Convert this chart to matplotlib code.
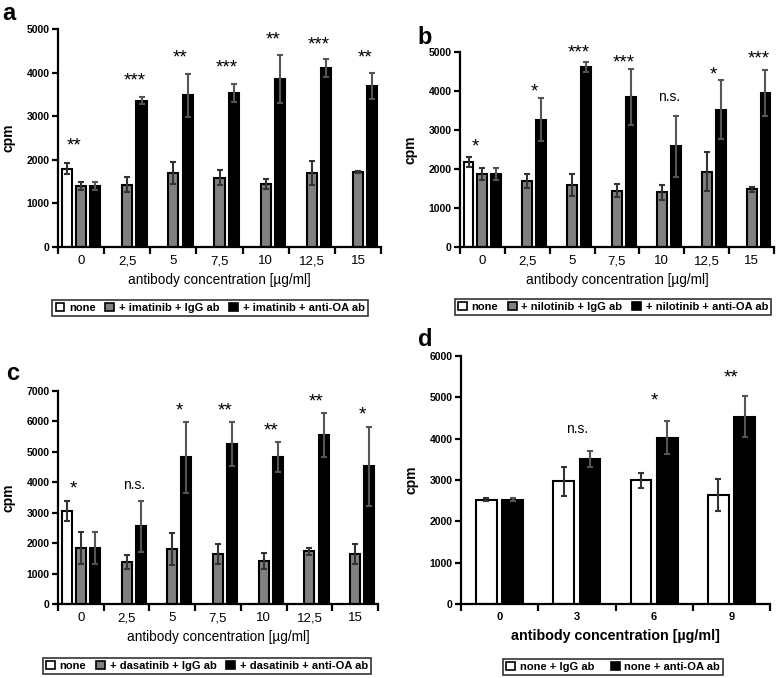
import numpy as np
import matplotlib
matplotlib.use('Agg')
import matplotlib.pyplot as plt
from matplotlib.patches import Patch

plt.rcParams['font.family'] = ['Liberation Sans', 'DejaVu Sans']

W, H = 777, 678

conc = ['0', '2,5', '5', '7,5', '10', '12,5', '15']

# panel a - imatinib
a_none = [1800]
a_none_err = [120]
a_igg = [1400, 1430, 1690, 1590, 1450, 1700, 1720]
a_igg_err = [90, 170, 250, 170, 110, 270, 25]
a_oa = [1400, 3360, 3480, 3530, 3860, 4100, 3690]
a_oa_err = [90, 70, 490, 210, 550, 210, 300]
a_stars = ['**', '***', '**', '***', '**', '***', '**']
a_star_y = [2410, 3900, 4440, 4210, 4850, 4740, 4440]

# panel b - nilotinib
b_none = [2190]
b_none_err = [130]
b_igg = [1875, 1700, 1590, 1440, 1400, 1935, 1480]
b_igg_err = [160, 180, 270, 170, 190, 490, 60]
b_oa = [1875, 3260, 4615, 3840, 2580, 3520, 3960]
b_oa_err = [160, 550, 140, 720, 790, 750, 590]
b_stars = ['*', '*', '***', '***', 'n.s.', '*', '***']
b_star_y = [2660, 4075, 5077, 4829, 3844, 4529, 4931]

# panel c - dasatinib
c_none = [3060]
c_none_err = [320]
c_igg = [1840, 1380, 1800, 1650, 1400, 1730, 1650]
c_igg_err = [510, 220, 530, 320, 260, 110, 330]
c_oa = [1840, 2550, 4820, 5260, 4820, 5560, 4520]
c_oa_err = [510, 840, 1160, 720, 490, 720, 1310]
c_stars = ['*', 'n.s.', '*', '**', '**', '**', '*']
c_star_y = [3920, 3920, 6490, 6490, 5830, 6790, 6340]

# panel d - no inhibitor
d_conc = ['0', '3', '6', '9']
d_igg = [2520, 2965, 2990, 2640]
d_igg_err = [40, 340, 190, 390]
d_oa = [2520, 3510, 4020, 4530]
d_oa_err = [40, 200, 400, 500]
d_stars = ['', 'n.s.', '*', '**']
d_star_y = [0, 4230, 5020, 5560]

GREY = '#808080'
ERR = '#333333'


def px_axes(fig, left, right, top, bottom):
	return fig.add_axes([left / W, 1 - bottom / H, (right - left) / W, (bottom - top) / H])


def sig_label(ax, x, y, s):
	# asterisks are drawn bigger than the "n.s." text
	if s == 'n.s.':
		ax.text(x, y, s, ha='center', va='center', fontsize=10)
	else:
		ax.annotate(s, (x, y), xytext=(0, -3), textcoords='offset points',
					ha='center', va='center', fontsize=13.5, annotation_clip=False)


def style_axes(ax, ncat, ymax, ystep):
	for s in ['top', 'right']:
		ax.spines[s].set_visible(False)
	for s in ['left', 'bottom']:
		ax.spines[s].set_linewidth(1.6)
	ax.set_xlim(-0.5, ncat - 0.5)
	ax.set_ylim(0, ymax)
	ax.set_yticks(np.arange(0, ymax + 1, ystep))
	ax.set_xticks(np.arange(-0.5, ncat, 1.0), minor=True)
	ax.tick_params(axis='x', which='major', length=0, pad=6)
	ax.tick_params(axis='x', which='minor', length=5, width=1.6, direction='out')
	ax.tick_params(axis='y', length=4, width=1.6, direction='out', pad=2)
	for t in ax.get_yticklabels():
		t.set_fontweight('bold')
		t.set_fontsize(7.5)
	ax.set_ylabel('cpm', fontsize=10, fontweight='bold', labelpad=8)


def drug_panel(fig, box, letter, letter_xy, none, none_err, igg, igg_err, oa, oa_err,
			   stars, star_y, ymax, ystep, drug, leg_xy):
	ax = px_axes(fig, *box)
	x = np.arange(len(conc))
	step, w = 0.31, 0.22
	ekw = dict(ecolor=ERR, elinewidth=1.5, capsize=2.5, capthick=1.5)
	ax.bar(x[:len(none)] - step, none, w, yerr=none_err, color='white',
		   edgecolor='black', linewidth=1.5, error_kw=ekw)
	ax.bar(x, igg, w, yerr=igg_err, color=GREY, edgecolor='black', linewidth=1.5, error_kw=ekw)
	ax.bar(x + step, oa, w, yerr=oa_err, color='black', edgecolor='black', linewidth=1.5,
		   error_kw=dict(ecolor='#555555', elinewidth=1.5, capsize=2.5, capthick=1.5))
	for i, (s, yy) in enumerate(zip(stars, star_y)):
		off = -step / 2 if i == 0 else step / 2
		sig_label(ax, i + off, yy, s)
	style_axes(ax, len(conc), ymax, ystep)
	ax.set_xticks(x)
	ax.set_xticklabels(conc, fontsize=9.5)
	ax.set_xlabel('antibody concentration [µg/ml]', fontsize=9.8, labelpad=4)
	fig.text(letter_xy[0] / W, 1 - letter_xy[1] / H, letter, fontsize=17, fontweight='bold',
			 ha='center', va='center')
	handles = [Patch(facecolor='white', edgecolor='black', linewidth=1.2),
			   Patch(facecolor=GREY, edgecolor='black', linewidth=1.2),
			   Patch(facecolor='black', edgecolor='black', linewidth=1.2)]
	labels = ['none', '+ ' + drug + ' + IgG ab', '+ ' + drug + ' + anti-OA ab']
	leg = fig.legend(handles, labels, loc='center', bbox_to_anchor=(leg_xy[0] / W, 1 - leg_xy[1] / H),
					 ncol=3, fancybox=False, edgecolor='black', handlelength=0.8, handleheight=0.8,
					 handletextpad=0.4, columnspacing=0.9, borderpad=0.3, prop={'weight': 'bold', 'size': 8})
	leg.get_frame().set_linewidth(1.2)
	return ax


fig = plt.figure(figsize=(W / 100, H / 100), dpi=100)

drug_panel(fig, (58, 381, 29, 247), 'a', (9, 13), a_none, a_none_err, a_igg, a_igg_err,
		   a_oa, a_oa_err, a_stars, a_star_y, 5000, 1000, 'imatinib', (210, 308))
drug_panel(fig, (460, 774, 52, 247), 'b', (425, 37), b_none, b_none_err, b_igg, b_igg_err,
		   b_oa, b_oa_err, b_stars, b_star_y, 5000, 1000, 'nilotinib', (613, 307))
drug_panel(fig, (58, 378, 391, 604), 'c', (13, 373), c_none, c_none_err, c_igg, c_igg_err,
		   c_oa, c_oa_err, c_stars, c_star_y, 7000, 1000, 'dasatinib', (207, 666))

# panel d
ax = px_axes(fig, 461, 770, 356, 604)
x = np.arange(len(d_conc))
ax.bar(x - 0.17, d_igg, 0.27, yerr=d_igg_err, color='white', edgecolor='black', linewidth=1.5,
	   error_kw=dict(ecolor=ERR, elinewidth=1.5, capsize=2.5, capthick=1.5))
ax.bar(x + 0.17, d_oa, 0.27, yerr=d_oa_err, color='black', edgecolor='black', linewidth=1.5,
	   error_kw=dict(ecolor='#555555', elinewidth=1.5, capsize=2.5, capthick=1.5))
for i, (s, yy) in enumerate(zip(d_stars, d_star_y)):
	if s:
		sig_label(ax, i, yy, s)
style_axes(ax, len(d_conc), 6000, 1000)
ax.set_xticks(x)
ax.set_xticklabels(d_conc, fontsize=8, fontweight='bold')
ax.set_xlabel('antibody concentration [µg/ml]', fontsize=10.3, fontweight='bold', labelpad=5)
fig.text(425 / W, 1 - 340 / H, 'd', fontsize=17, fontweight='bold', ha='center', va='center')
handles = [Patch(facecolor='white', edgecolor='black', linewidth=1.2),
		   Patch(facecolor='black', edgecolor='black', linewidth=1.2)]
leg = fig.legend(handles, ['none + IgG ab', 'none + anti-OA ab'], loc='center',
				 bbox_to_anchor=(613 / W, 1 - 667 / H), ncol=2, fancybox=False, edgecolor='black',
				 handlelength=0.8, handleheight=0.8, handletextpad=0.4, columnspacing=1.5,
				 borderpad=0.3, prop={'weight': 'bold', 'size': 8})
leg.get_frame().set_linewidth(1.2)

fig.savefig('out.png', dpi=100)
